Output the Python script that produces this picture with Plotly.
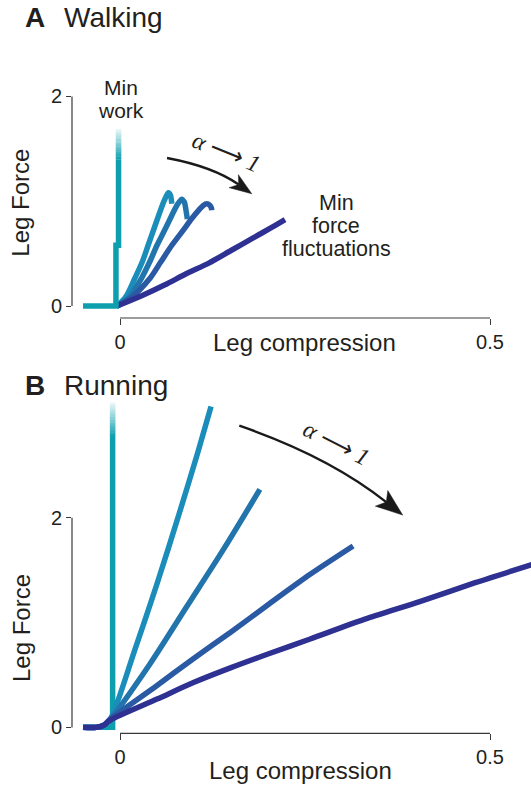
import plotly.graph_objects as go

W, H = 531, 792

# ---------------- data ----------------
# A: walking, leg force vs leg compression
walk_minwork_x = [-0.05, -0.0055, -0.0055, -0.002, -0.002]
walk_minwork_y = [0.0, 0.0, 0.58, 0.58, 1.69]

walk_c1_x = [-0.004, 0.008, 0.020, 0.030, 0.038, 0.046, 0.054, 0.060, 0.0653, 0.068, 0.070]
walk_c1_y = [0.0, 0.09, 0.265, 0.42, 0.58, 0.74, 0.90, 1.01, 1.08, 1.06, 0.976]

walk_c2_x = [-0.004, 0.012, 0.029, 0.040, 0.050, 0.060, 0.0676, 0.076, 0.0833, 0.087, 0.089, 0.091]
walk_c2_y = [0.0, 0.08, 0.265, 0.42, 0.58, 0.72, 0.83, 0.95, 1.02, 0.99, 0.92, 0.83]

walk_c3_x = [-0.004, 0.015, 0.0405, 0.055, 0.070, 0.085, 0.097, 0.107, 0.1125, 0.117, 0.1216, 0.1235, 0.124]
walk_c3_y = [0.0, 0.08, 0.265, 0.42, 0.58, 0.72, 0.835, 0.92, 0.96, 0.976, 0.96, 0.935, 0.913]

walk_c4_x = [-0.004, 0.03, 0.06, 0.09, 0.12, 0.15, 0.18, 0.205, 0.223]
walk_c4_y = [0.0, 0.10, 0.20, 0.31, 0.41, 0.53, 0.65, 0.75, 0.825]

# B: running
run_minwork_x = [-0.05, -0.010, -0.010]
run_minwork_y = [0.0, 0.0, 3.10]

run_c1_x = [-0.05, -0.032, -0.022, -0.013, 0.02, 0.05, 0.08, 0.105, 0.123]
run_c1_y = [0.0, 0.0, 0.02, 0.08, 0.74, 1.37, 2.04, 2.62, 3.06]

run_c2_x = [-0.05, -0.032, -0.022, -0.013, 0.04, 0.09, 0.14, 0.189]
run_c2_y = [0.0, 0.0, 0.02, 0.08, 0.60, 1.15, 1.70, 2.27]

run_c3_x = [-0.05, -0.032, -0.022, -0.013, 0.05, 0.10, 0.15, 0.20, 0.257, 0.315]
run_c3_y = [0.0, 0.0, 0.02, 0.08, 0.40, 0.66, 0.91, 1.17, 1.46, 1.73]

run_c4_x = [-0.05, -0.032, -0.022, -0.013, 0.05, 0.10, 0.15, 0.20, 0.257, 0.33, 0.405, 0.48, 0.56]
run_c4_y = [0.0, 0.0, 0.02, 0.07, 0.27, 0.43, 0.57, 0.70, 0.843, 1.03, 1.20, 1.38, 1.56]

x_tickvals = [0, 0.5]
x_ticktext = ["0", "0.5"]
y_tickvals = [0, 2]
y_ticktext = ["0", "2"]

# ---------------- styling ----------------
FONT = "Liberation Sans, Arial, Helvetica, sans-serif"
TXT = "#231f20"
AXC = "#3a3a3a"
MINWORK_COLOR = (13, 159, 173)
CURVE_COLORS = ["#1b8dbb", "#2274ad", "#2a5aa3", "#2e3192"]
LW = 5.5

# pixel geometry of the two panels
PLOT_LEFT = 72
X_RANGE = [-0.0649, 0.5554]
PX_PER_X = (W - PLOT_LEFT) / (X_RANGE[1] - X_RANGE[0])
PX_PER_Y = 105.5
PANELS = {
    "A": dict(top=70, bottom=320, zero=308, xa="x", ya="y"),
    "B": dict(top=400, bottom=738, zero=732, xa="x2", ya="y2"),
}
for p in PANELS.values():
    p["yrange"] = [-(p["bottom"] - p["zero"]) / PX_PER_Y, (p["zero"] - p["top"]) / PX_PER_Y]


def to_px(x, y, panel):
    p = PANELS[panel]
    return PLOT_LEFT + (x - X_RANGE[0]) * PX_PER_X, p["zero"] - y * PX_PER_Y


def paper(px, py):
    return px / W, 1 - py / H


fig = go.Figure()


def add_line(xs, ys, color, panel, width=LW, smooth=False):
    p = PANELS[panel]
    line = dict(color=color, width=width)
    if smooth:
        line.update(shape="spline", smoothing=0.8)
    fig.add_trace(go.Scatter(x=xs, y=ys, mode="lines", xaxis=p["xa"], yaxis=p["ya"],
                             line=line, hoverinfo="skip", showlegend=False))


def add_minwork(xs, ys, fade_len, panel, n=24):
    """Minimum-work trajectory; its top end fades out to white."""
    top = ys[-1]
    start = top - fade_len
    add_line(xs[:-1] + [xs[-1]], ys[:-1] + [start], "rgb(%d,%d,%d)" % MINWORK_COLOR, panel)
    for i in range(n):
        y0 = start + fade_len * i / n
        y1 = start + fade_len * (i + 1.3) / n
        t = (i + 0.5) / n * 0.93
        c = tuple(int(round(v * (1 - t) + 255 * t)) for v in MINWORK_COLOR)
        add_line([xs[-1], xs[-1]], [y0, min(y1, top)], "rgb(%d,%d,%d)" % c, panel)


# panel A
for xs, ys, col in zip([walk_c1_x, walk_c2_x, walk_c3_x, walk_c4_x],
                       [walk_c1_y, walk_c2_y, walk_c3_y, walk_c4_y], CURVE_COLORS):
    add_line(xs, ys, col, "A", smooth=True)
add_minwork(walk_minwork_x, walk_minwork_y, 0.29, "A")

# panel B
add_minwork(run_minwork_x, run_minwork_y, 0.33, "B")
for xs, ys, col in zip([run_c1_x, run_c2_x, run_c3_x, run_c4_x],
                       [run_c1_y, run_c2_y, run_c3_y, run_c4_y], CURVE_COLORS):
    add_line(xs, ys, col, "B", smooth=True)

# ---------------- axes ----------------
axis_common = dict(showgrid=False, zeroline=False, showline=False, ticks="outside",
                   tickcolor=AXC, tickwidth=1.2, ticklen=6,
                   tickfont=dict(family=FONT, size=20, color=TXT), fixedrange=True)
layout_axes = {}
for name, p in PANELS.items():
    suffix = "" if name == "A" else "2"
    ydom = [1 - p["bottom"] / H, 1 - p["top"] / H]
    layout_axes["xaxis" + suffix] = dict(axis_common, domain=[PLOT_LEFT / W, 1], range=X_RANGE,
                                         tickvals=x_tickvals, ticktext=x_ticktext,
                                         anchor="y" + suffix)
    layout_axes["yaxis" + suffix] = dict(axis_common, domain=ydom, range=p["yrange"],
                                         tickvals=y_tickvals, ticktext=y_ticktext,
                                         anchor="x" + suffix, ticklen=5)

shapes = []
annotations = []
for name, p in PANELS.items():
    # detached axis lines spanning only the labelled range
    x0p, y0p = paper(PLOT_LEFT, p["zero"])
    _, y2p = paper(PLOT_LEFT, p["zero"] - 2 * PX_PER_Y)
    shapes.append(dict(type="line", xref="paper", yref="paper", x0=x0p, x1=x0p, y0=y0p, y1=y2p,
                       line=dict(color=AXC, width=1.2)))
    ax0, _ = to_px(0, 0, name)
    ax1, _ = to_px(0.5, 0, name)
    yb = 1 - p["bottom"] / H
    shapes.append(dict(type="line", xref="paper", yref="paper", x0=ax0 / W, x1=ax1 / W, y0=yb, y1=yb,
                       line=dict(color=AXC, width=1.2)))


def text(px, py, s, size, angle=0, xanchor="center", fam=FONT):
    xp, yp = paper(px, py)
    annotations.append(dict(xref="paper", yref="paper", x=xp, y=yp, text=s, showarrow=False,
                            xanchor=xanchor, yanchor="middle", textangle=angle,
                            font=dict(family=fam, size=size, color=TXT)))


# panel titles
text(23, 18, "<b>A</b>", 28, xanchor="left")
text(62, 18, "Walking", 28, xanchor="left")
text(23, 388, "<b>B</b>", 28, xanchor="left")
text(62, 388, "Running", 28, xanchor="left")

# axis titles
text(21, 204, "Leg Force", 24, angle=-90)
text(21, 632, "Leg Force", 24, angle=-90)
text(304, 345, "Leg compression", 24)
text(300, 775, "Leg compression", 24)

# curve labels
text(121, 88, "Min", 21)
text(121, 111, "work", 21)
text(336, 204, "Min", 21.5)
text(336, 227.5, "force", 21.5)
text(336, 251, "fluctuations", 21.5)


def curved_arrow(panel, tail, tip, bulge, head_len, head_w):
    tx, ty = to_px(*tail, panel)
    hx, hy = to_px(*tip, panel)
    dx, dy = hx - tx, hy - ty
    L = (dx * dx + dy * dy) ** 0.5
    ux, uy = dx / L, dy / L
    nx, ny = uy, -ux  # normal pointing upward on screen
    cx, cy = (tx + hx) / 2 + 2 * bulge * nx, (ty + hy) / 2 + 2 * bulge * ny
    # tangent at tip
    ex, ey = hx - cx, hy - cy
    el = (ex * ex + ey * ey) ** 0.5
    ex, ey = ex / el, ey / el
    fx, fy = -ey, ex
    notch = (hx - (head_len - 6) * ex, hy - (head_len - 6) * ey)
    b1 = (hx - head_len * ex + head_w * fx, hy - head_len * ey + head_w * fy)
    b2 = (hx - head_len * ex - head_w * fx, hy - head_len * ey - head_w * fy)

    def P(x, y):
        a, b = paper(x, y)
        return "%.5f,%.5f" % (a, b)

    shapes.append(dict(type="path", xref="paper", yref="paper",
                       path="M %s Q %s %s" % (P(tx, ty), P(cx, cy), P(*notch)),
                       line=dict(color="#1a1a1a", width=2.4)))
    shapes.append(dict(type="path", xref="paper", yref="paper",
                       path="M %s L %s L %s L %s Z" % (P(hx, hy), P(*b1), P(*notch), P(*b2)),
                       fillcolor="#1a1a1a", line=dict(color="#1a1a1a", width=0.5)))


curved_arrow("A", (0.0635, 1.412), (0.178, 1.071), 5, 22, 8)
curved_arrow("B", (0.1612, 2.878), (0.382, 2.025), 8, 27, 10)

ALPHA_TXT = "<i>α</i> ⟶ <i>1</i>"
SERIF = "Liberation Serif, Times New Roman, serif"
text(226, 153, ALPHA_TXT, 24, angle=22, fam=SERIF)
text(336, 446, ALPHA_TXT, 24, angle=27, fam=SERIF)

fig.update_layout(width=W, height=H, margin=dict(l=0, r=0, t=0, b=0),
                  paper_bgcolor="white", plot_bgcolor="white",
                  shapes=shapes, annotations=annotations, showlegend=False,
                  **layout_axes)

fig.write_html("out.html")
